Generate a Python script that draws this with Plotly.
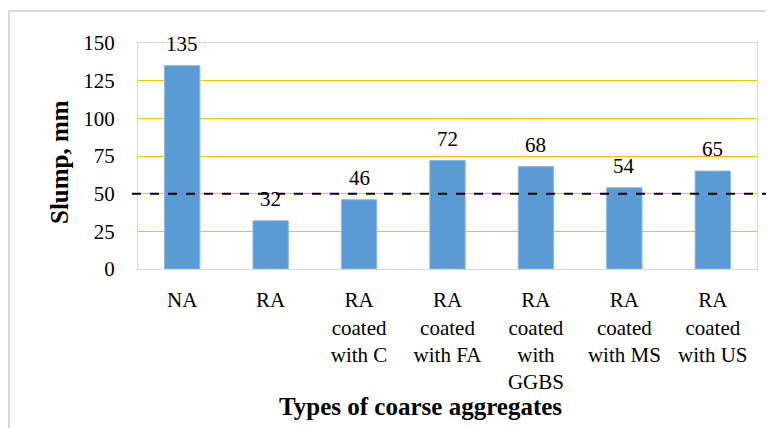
import plotly.graph_objects as go

categories = ["NA", "RA", "RA<br>coated<br>with C", "RA<br>coated<br>with FA",
              "RA<br>coated<br>with<br>GGBS", "RA<br>coated<br>with MS", "RA<br>coated<br>with US"]
slump = [135, 32, 46, 72, 68, 54, 65]
y_ticks = [0, 25, 50, 75, 100, 125, 150]
threshold = 50

FONT = "Liberation Serif"
OFF = 8  # page body margin
W, H = 774 - OFF, 428 - OFF
L, R, T = 138 - OFF, 774 - 757, 43 - OFF
B = H - (269 - OFF)
pw, ph = W - L - R, H - T - B

def px_x(x):
    return (x - OFF - L) / pw

def px_y(y):
    return (H - B - (y - OFF)) / ph

fig = go.Figure()
fig.add_trace(go.Bar(
    x=categories, y=slump, width=0.4,
    marker=dict(color="#5B9BD5", line=dict(color="#8DB9E4", width=1)),
    hoverinfo="x+y",
))

for c, v in zip(categories, slump):
    fig.add_annotation(x=c, y=v, text=str(v), showarrow=False, yshift=22,
                       font=dict(family=FONT, size=21, color="black"))

# threshold dashed line
fig.add_shape(type="line", xref="paper", yref="y", x0=px_x(132), x1=px_x(776),
              y0=threshold, y1=threshold, line=dict(color="black", width=2, dash="dash"))

# outer chart border
fig.add_shape(type="rect", xref="paper", yref="paper", x0=px_x(9), x1=px_x(770),
              y0=px_y(445), y1=px_y(11), line=dict(color="#D9D9D9", width=2),
              fillcolor="rgba(0,0,0,0)", layer="below")

fig.add_annotation(xref="paper", yref="paper", x=px_x(59), y=px_y(162), text="<b>Slump, mm</b>",
                   textangle=-90, showarrow=False, xanchor="center", yanchor="middle",
                   font=dict(family=FONT, size=25, color="black"))
fig.add_annotation(xref="paper", yref="paper", x=px_x(420), y=px_y(407),
                   text="<b>Types of coarse aggregates</b>", showarrow=False,
                   xanchor="center", yanchor="middle",
                   font=dict(family=FONT, size=25, color="black"))

fig.update_layout(
    width=W, height=H,
    margin=dict(l=L, r=R, t=T, b=B, autoexpand=False),
    paper_bgcolor="white", plot_bgcolor="white",
    showlegend=False,
    font=dict(family=FONT, size=21, color="black"),
)
fig.update_xaxes(showline=True, linecolor="#D9D9D9", linewidth=1, mirror=True,
                 showgrid=False, ticks="", ticklabelstandoff=12,
                 tickfont=dict(family=FONT, size=21, color="black"), automargin=False)
fig.update_yaxes(range=[0, 150], tickvals=y_ticks, showline=True, linecolor="#D9D9D9",
                 linewidth=1, mirror=True, showgrid=True, gridcolor="#FFC000", gridwidth=1,
                 zeroline=False, ticks="", ticklabelstandoff=18,
                 tickfont=dict(family=FONT, size=21, color="black"), automargin=False)

fig.write_html("out.html")
